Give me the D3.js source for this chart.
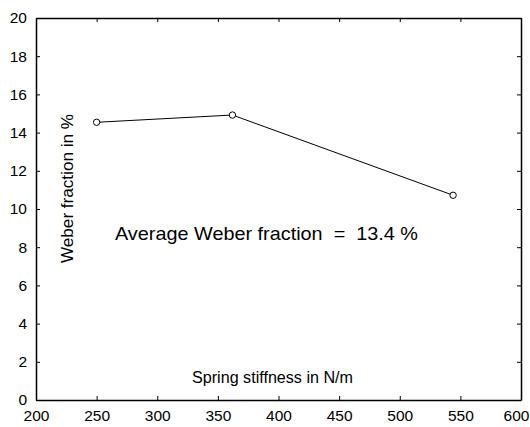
<!DOCTYPE html>
<html><head><meta charset="utf-8">
<script src="https://cdn.jsdelivr.net/npm/d3@7"></script>
<style>body{margin:0;background:#fff}svg{display:block}text{font-family:"Liberation Sans",Arial,sans-serif;fill:#000}</style>
</head><body>
<script>
const stiffness = [250, 362, 544];
const weber = [14.54, 14.92, 10.72];
const xTicks = [200, 250, 300, 350, 400, 450, 500, 550, 600];
const yTicks = [0, 2, 4, 6, 8, 10, 12, 14, 16, 18, 20];
const xLabel = "Spring stiffness in N/m";
const yLabel = "Weber fraction in %";
const note = "Average Weber fraction  =  13.4 %";

const W = 530, H = 427;
const m = {l: 36, r: 9, t: 18, b: 27};
const svg = d3.select("body").append("svg").attr("width", W).attr("height", H);
const x = d3.scaleLinear().domain([200, 600]).range([m.l, W - m.r]);
const y = d3.scaleLinear().domain([0, 20]).range([H - m.b, m.t]);

const tk = 4;
svg.append("g").attr("transform", `translate(0,${H - m.b})`)
  .call(d3.axisBottom(x).tickValues(xTicks).tickSizeInner(-tk).tickSizeOuter(0).tickPadding(9))
  .call(g => g.selectAll("text").attr("font-size", 15.5).attr("dy", "0.8em"))
  .call(g => g.selectAll(".tick").filter(d => d === 600).select("text").attr("dx", -5));
svg.append("g").attr("transform", `translate(0,${m.t})`)
  .call(d3.axisTop(x).tickValues(xTicks).tickSizeInner(-tk).tickSizeOuter(0).tickFormat(""));
svg.append("g").attr("transform", `translate(${m.l},0)`)
  .call(d3.axisLeft(y).tickValues(yTicks).tickSizeInner(-tk).tickSizeOuter(0).tickPadding(9))
  .call(g => g.selectAll("text").attr("font-size", 15.5));
svg.append("g").attr("transform", `translate(${W - m.r},0)`)
  .call(d3.axisRight(y).tickValues(yTicks).tickSizeInner(-tk).tickSizeOuter(0).tickFormat(""));
svg.selectAll(".domain").attr("stroke", "#000").attr("stroke-width", 1.5);
svg.selectAll(".tick line").attr("stroke", "#000");
svg.selectAll(".tick text").attr("font-family", "Liberation Sans, Arial, sans-serif");

const pts = stiffness.map((s, i) => [s, weber[i]]);
svg.append("path").datum(pts)
  .attr("d", d3.line().x(d => x(d[0])).y(d => y(d[1])))
  .attr("fill", "none").attr("stroke", "#000").attr("stroke-width", 1);
svg.selectAll("circle.pt").data(pts).join("circle")
  .attr("cx", d => x(d[0])).attr("cy", d => y(d[1])).attr("r", 3.2)
  .attr("fill", "#fff").attr("stroke", "#000").attr("stroke-width", 1);

svg.append("text").attr("x", 192).attr("y", 383).attr("font-size", 16)
  .attr("textLength", 161).attr("lengthAdjust", "spacingAndGlyphs").text(xLabel);
svg.append("text").attr("transform", "translate(73,188.5) rotate(-90)")
  .attr("text-anchor", "middle").attr("font-size", 16.5)
  .attr("textLength", 149).attr("lengthAdjust", "spacingAndGlyphs").text(yLabel);
svg.append("text").attr("x", 115).attr("y", 240).attr("font-size", 19)
  .style("white-space", "pre")
  .attr("textLength", 303).attr("lengthAdjust", "spacingAndGlyphs").text(note);
</script>
</body></html>
